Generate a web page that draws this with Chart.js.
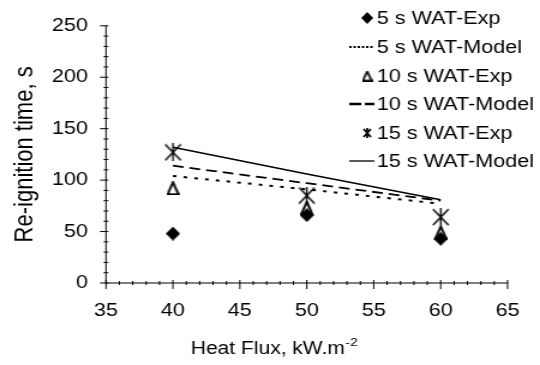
<!DOCTYPE html>
<html>
<head>
<meta charset="utf-8">
<script src="https://cdn.jsdelivr.net/npm/chart.js@4.4.0/dist/chart.umd.min.js"></script>
<style>
  html, body { margin: 0; padding: 0; background: #fff; overflow: hidden; }
  /* the reference text looks stretched sideways, so the whole chart is drawn narrow and widened */
  #wrap { width: 450px; height: 365px; transform: scaleX(1.2); transform-origin: 0 0; }
</style>
</head>
<body>
<div id="wrap"><canvas id="chart" width="450" height="365"></canvas></div>
<script>
// data
const heatFlux = [40, 50, 60];
const exp5 = [48, 66, 43];
const model5 = [104, 91, 77];
const exp10 = [92, 73, 49];
const model10 = [114, 97, 80];
const exp15 = [127, 85, 64];
const model15 = [132, 106, 81];

const xTicks = [35, 40, 45, 50, 55, 60, 65];
const yTicks = [0, 50, 100, 150, 200, 250];
const seriesNames = ['5 s WAT-Exp', '5 s WAT-Model', '10 s WAT-Exp', '10 s WAT-Model', '15 s WAT-Exp', '15 s WAT-Model'];
const xTitle = 'Heat Flux, kW.m';
const xTitleSup = '-2';

const FONT = '"Liberation Sans", Arial, sans-serif';
Chart.defaults.font.family = FONT;
Chart.defaults.color = '#000';

function toPoints(ys) {
  return heatFlux.map((x, i) => ({ x: x, y: ys[i] }));
}

// small canvases used as point markers (narrower than tall, to undo the stretch)
function makeMarker(w, h, draw) {
  const c = document.createElement('canvas');
  c.width = w;
  c.height = h;
  const g = c.getContext('2d');
  g.strokeStyle = '#000';
  g.fillStyle = '#000';
  draw(g, w, h);
  return c;
}
function diamond(w, h) {
  return makeMarker(w, h, (g) => {
    g.beginPath();
    g.moveTo(0, h / 2); g.lineTo(w / 2, 0); g.lineTo(w, h / 2); g.lineTo(w / 2, h);
    g.closePath();
    g.fill();
  });
}
function triangle(w, h, lw) {
  return makeMarker(w, h, (g) => {
    g.lineWidth = lw;
    g.fillStyle = '#fff';
    g.beginPath();
    g.moveTo(lw / 2, h - lw / 2); g.lineTo(w / 2, lw / 2); g.lineTo(w - lw / 2, h - lw / 2);
    g.closePath();
    g.fill();
    g.stroke();
  });
}
function star(w, h, lw) {
  return makeMarker(w, h, (g) => {
    g.lineWidth = lw;
    g.beginPath();
    g.moveTo(1, 1); g.lineTo(w - 1, h - 1);
    g.moveTo(w - 1, 1); g.lineTo(1, h - 1);
    g.moveTo(w / 2, 0); g.lineTo(w / 2, h);
    g.stroke();
  });
}

const markers = {
  diamond: diamond(12, 14),
  triangle: triangle(11, 14, 2),
  star: star(15, 18, 1.4)
};
const legendMarkers = {
  diamond: diamond(10, 12),
  triangle: triangle(9, 11, 1.7),
  star: star(8, 10, 1.7)
};

// axis lines + major/minor tick marks
const axesPlugin = {
  id: 'axes',
  beforeDatasetsDraw(chart) {
    const { ctx } = chart;
    const x = chart.scales.x, y = chart.scales.y;
    const x0 = x.getPixelForValue(xTicks[0]);
    const x1 = x.getPixelForValue(xTicks[xTicks.length - 1]);
    const y0 = y.getPixelForValue(0);
    const y1 = y.getPixelForValue(yTicks[yTicks.length - 1]);
    ctx.save();
    ctx.strokeStyle = '#000';
    ctx.lineWidth = 1;
    ctx.beginPath();
    ctx.moveTo(x0, y1); ctx.lineTo(x0, y0); ctx.lineTo(x1, y0);
    for (let v = xTicks[0]; v <= xTicks[xTicks.length - 1]; v++) {
      const px = x.getPixelForValue(v);
      if (v % 5 === 0) { ctx.moveTo(px, y0 - 3); ctx.lineTo(px, y0 + 6); }
      else { ctx.moveTo(px, y0 - 2); ctx.lineTo(px, y0 + 2); }
    }
    for (let v = 0; v <= yTicks[yTicks.length - 1]; v += 10) {
      const py = y.getPixelForValue(v);
      if (v % 50 === 0) { ctx.moveTo(x0 - 5, py); ctx.lineTo(x0 + 2, py); }
      else { ctx.moveTo(x0 - 2, py); ctx.lineTo(x0 + 2, py); }
    }
    ctx.stroke();

    // x axis title with a raised "-2"
    ctx.fillStyle = '#000';
    ctx.textBaseline = 'alphabetic';
    ctx.textAlign = 'left';
    ctx.font = '17.5px ' + FONT;
    const tx = 159, ty = 354;
    ctx.fillText(xTitle, tx, ty);
    const w = ctx.measureText(xTitle).width;
    ctx.font = '11.5px ' + FONT;
    ctx.fillText(xTitleSup, tx + w + 0.5, ty - 8);
    ctx.restore();
  }
};

// legend inside the plot, top right
const legendPlugin = {
  id: 'sideLegend',
  afterDraw(chart) {
    const { ctx } = chart;
    const rowY = [18, 47, 76, 104, 133, 161];
    ctx.save();
    ctx.font = '18px ' + FONT;
    ctx.textBaseline = 'middle';
    ctx.textAlign = 'left';
    ctx.fillStyle = '#000';
    chart.data.datasets.forEach((ds, i) => {
      const yy = rowY[i];
      if (ds.showLine) {
        ctx.save();
        ctx.strokeStyle = '#000';
        ctx.lineWidth = ds.legendWidth;
        ctx.setLineDash(ds.legendDash);
        ctx.beginPath();
        ctx.moveTo(291, yy);
        ctx.lineTo(312, yy);
        ctx.stroke();
        ctx.restore();
      } else {
        const m = legendMarkers[ds.markerName];
        ctx.drawImage(m, 306 - m.width / 2, yy - m.height / 2);
      }
      ctx.fillText(ds.label, 314, yy + 1);
    });
    ctx.restore();
  }
};

function expSet(i, ys, name) {
  return {
    label: seriesNames[i],
    data: toPoints(ys),
    showLine: false,
    markerName: name,
    pointStyle: markers[name],
    pointRadius: 7,
    borderColor: '#000',
    backgroundColor: '#000'
  };
}
function modelSet(i, ys, dash, width, legendDash, legendWidth) {
  return {
    label: seriesNames[i],
    data: toPoints(ys),
    showLine: true,
    borderColor: '#000',
    borderWidth: width,
    borderDash: dash,
    pointRadius: 0,
    legendDash: legendDash,
    legendWidth: legendWidth
  };
}

new Chart(document.getElementById('chart'), {
  type: 'scatter',
  data: {
    datasets: [
      expSet(0, exp5, 'diamond'),
      modelSet(1, model5, [3, 6], 2, [2, 1.5], 2),
      expSet(2, exp10, 'triangle'),
      modelSet(3, model10, [9, 5], 1.8, [10, 3], 2.5),
      expSet(4, exp15, 'star'),
      modelSet(5, model15, [], 1.5, [], 1.3)
    ]
  },
  options: {
    responsive: false,
    animation: false,
    layout: { padding: { top: 24, right: 25, bottom: 0, left: 0 } },
    plugins: {
      legend: { display: false },
      tooltip: { enabled: false }
    },
    scales: {
      x: {
        type: 'linear',
        min: xTicks[0],
        max: xTicks[xTicks.length - 1],
        afterBuildTicks: (scale) => { scale.ticks = xTicks.map(v => ({ value: v })); },
        afterFit: (scale) => { scale.height = 82; },
        grid: { display: false, drawTicks: false },
        border: { display: false },
        ticks: { font: { size: 18 }, padding: 17, maxRotation: 0 }
      },
      y: {
        min: yTicks[0],
        max: yTicks[yTicks.length - 1],
        afterBuildTicks: (scale) => { scale.ticks = yTicks.map(v => ({ value: v })); },
        afterFit: (scale) => { scale.width = 88.3; },
        grid: { display: false, drawTicks: false },
        border: { display: false },
        ticks: { font: { size: 18 }, padding: 15 },
        title: {
          display: true,
          text: 'Re-ignition time, s',
          font: { size: 22 },
          padding: { top: 8, bottom: 0 }
        }
      }
    }
  },
  plugins: [axesPlugin, legendPlugin]
});
</script>
</body>
</html>
